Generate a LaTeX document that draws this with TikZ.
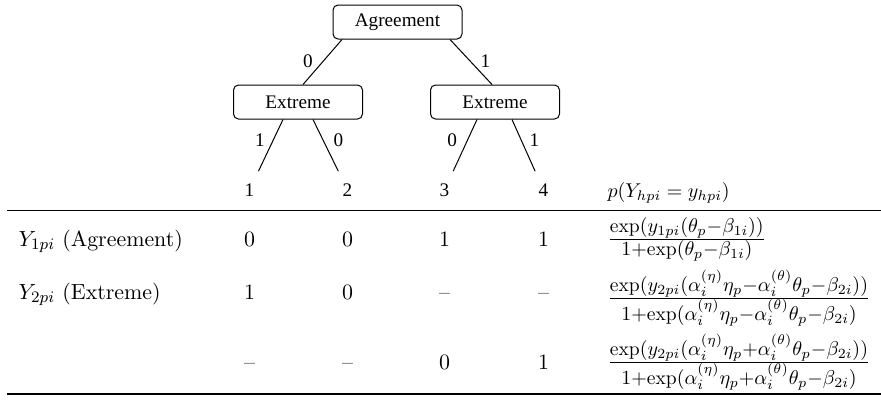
\documentclass[tikz,border=0pt]{standalone}
\usepackage{amsmath}
\usepackage{fontspec}
\newfontfamily\treefont{Liberation Serif}
\newcommand{\treesize}{\treefont\fontsize{9.6}{11}\selectfont}
\newcommand{\tabsize}{\fontsize{10.95}{13.6}\selectfont}
\newcommand{\probsize}{\fontsize{9.8}{12}\selectfont}
\newcommand{\ex}{\mathrm{exp}}
\newcommand{\pfrac}[2]{\frac{\textstyle #1}{\textstyle #2}}

\tikzset{
  box/.style={draw, rounded corners=2.5pt, minimum width=64.5pt, minimum height=17pt, font=\treesize},
  leaf/.style={inner sep=6pt, font=\treesize},
  lab/.style={inner sep=1pt, font=\treesize},
  cell/.style={anchor=base, inner sep=0pt, font=\tabsize},
  rowlab/.style={anchor=base west, inner sep=0pt, font=\tabsize},
  prob/.style={anchor=base west, inner sep=0pt, font=\probsize},
  rule/.style={line width=0.6pt}
}

\begin{document}
\begin{tikzpicture}[x=0.5pt, y=-0.5pt, line width=0.5pt]
\useasboundingbox (0,0) rectangle (881,404);

\node (A) at (397.5, 22) [box] {Agreement};

\node (E1) at (298, 102) [box] {Extreme};
\node (E2) at (495, 102) [box] {Extreme};

\node (L1) at (249.5, 190) [leaf] {1};
\node (L2) at (347.5, 190) [leaf] {2};
\node (L3) at (444.5, 190) [leaf] {3};
\node (L4) at (543.5, 190) [leaf] {4};

\path[-] ([xshift=-27.75pt]A.south) edge node[lab, pos=.48, left=4pt] {0} ([xshift=2.5pt]E1.north);
\path[-] ([xshift=26.25pt]A.south) edge node[lab, pos=.48, right=4pt] {1} ([xshift=-1.5pt]E2.north);

\path[-] ([xshift=-7.5pt]E1.south) edge node[lab, pos=.4, left=3pt] {1} (L1);
\path[-] ([xshift=7.5pt]E1.south) edge node[lab, pos=.4, right=4pt] {0} (L2);
\path[-] ([xshift=-9pt]E2.south) edge node[lab, pos=.4, left=4pt] {0} (L3);
\path[-] ([xshift=8.5pt]E2.south) edge node[lab, pos=.4, right=3pt] {1} (L4);

\node (P) at (607, 197) [prob] {$p(Y_{hpi}=y_{hpi})$};

\draw[rule] (7, 210.5) -- (881, 210.5);

\node (Y1) at (18, 246.5) [rowlab] {$Y_{1pi}$ (Agreement)};
\node (C11) at (249.5, 246.5) [cell] {0};
\node (C12) at (347.5, 246.5) [cell] {0};
\node (C13) at (444.5, 246.5) [cell] {1};
\node (C14) at (543.5, 246.5) [cell] {1};
\node (F1) at (607, 244) [prob] {$\pfrac{\ex(y_{1pi}(\theta_p{-}\beta_{1i}))}{1{+}\ex(\theta_p{-}\beta_{1i})}$};

\node (Y2) at (18, 299) [rowlab] {$Y_{2pi}$ (Extreme)};
\node (C21) at (249.5, 299) [cell] {1};
\node (C22) at (347.5, 299) [cell] {0};
\node (C23) at (444.5, 299) [cell] {--};
\node (C24) at (543.5, 299) [cell] {--};
\node (F2) at (607, 303) [prob] {$\pfrac{\ex(y_{2pi}(\alpha_i^{(\eta)}\eta_p{-}\alpha_i^{(\theta)}\theta_p{-}\beta_{2i}))}{1{+}\ex(\alpha_i^{(\eta)}\eta_p{-}\alpha_i^{(\theta)}\theta_p{-}\beta_{2i})}$};

\node (C31) at (249.5, 369) [cell] {--};
\node (C32) at (347.5, 369) [cell] {--};
\node (C33) at (444.5, 369) [cell] {0};
\node (C34) at (543.5, 369) [cell] {1};
\node (F3) at (607, 367) [prob] {$\pfrac{\ex(y_{2pi}(\alpha_i^{(\eta)}\eta_p{+}\alpha_i^{(\theta)}\theta_p{-}\beta_{2i}))}{1{+}\ex(\alpha_i^{(\eta)}\eta_p{+}\alpha_i^{(\theta)}\theta_p{-}\beta_{2i})}$};

\draw[rule] (7, 394) -- (881, 394);
\end{tikzpicture}
\end{document}
